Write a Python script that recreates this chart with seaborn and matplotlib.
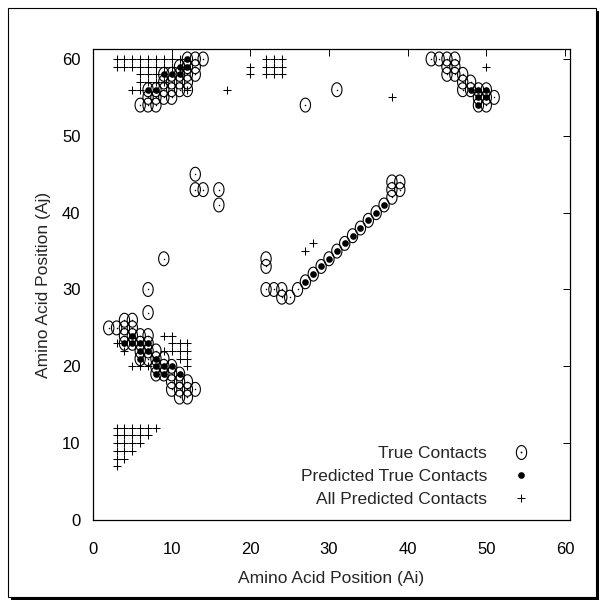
import numpy as np
import pandas as pd
import matplotlib
matplotlib.use("Agg")
import matplotlib.pyplot as plt
from matplotlib.path import Path
from matplotlib.markers import MarkerStyle
from matplotlib.lines import Line2D
from matplotlib.patches import Rectangle
import seaborn as sns

# Residue pairs (Ai, Aj) for each contact set
true_ai = [
    # N-terminal block vs C-terminal strand
    12, 13, 14, 11, 12, 13, 9, 10, 11, 12, 13, 9, 10, 11, 12,
    7, 8, 9, 10, 11, 12, 7, 8, 9, 10, 6, 7, 8,
    # antiparallel hairpin
    2, 3, 4, 4, 4, 4, 5, 5, 5, 5, 6, 6, 6, 6, 7, 7, 7, 7,
    8, 8, 8, 8, 9, 9, 9, 10, 10, 10, 10, 11, 11, 11, 11, 12, 12, 12, 13,
    # scattered contacts
    7, 7, 9, 13, 13, 14, 16, 16, 27, 31,
    # middle helix
    22, 22, 22, 23, 24, 24, 25, 26, 27, 28, 29, 30, 31, 32, 33, 34, 35, 36, 37,
    38, 38, 38, 39, 39,
    # C-terminal block
    43, 44, 45, 46, 45, 46, 45, 46, 47, 47, 48, 47, 48, 49, 50, 49, 50, 51, 49, 50,
]
true_aj = [
    60, 60, 60, 59, 59, 59, 58, 58, 58, 58, 58, 57, 57, 57, 57,
    56, 56, 56, 56, 56, 56, 55, 55, 55, 55, 54, 54, 54,
    25, 25, 26, 25, 24, 23, 26, 25, 24, 23, 24, 23, 22, 21, 24, 23, 22, 21,
    22, 21, 20, 19, 21, 20, 19, 20, 19, 18, 17, 19, 18, 17, 16, 18, 17, 16, 17,
    27, 30, 34, 45, 43, 43, 43, 41, 54, 56,
    34, 33, 30, 30, 30, 29, 29, 30, 31, 32, 33, 34, 35, 36, 37, 38, 39, 40, 41,
    42, 43, 44, 43, 44,
    60, 60, 60, 60, 59, 59, 58, 58, 58, 57, 57, 56, 56, 56, 56, 55, 55, 55, 54, 54,
]

pred_true_ai = [7, 8, 9, 10, 11, 11, 12, 12,
                5, 4, 5, 6, 7, 6, 7, 6, 8, 8, 9, 10, 8, 9, 11,
                27, 28, 29, 30, 31, 32, 33, 34, 35, 36, 37,
                48, 49, 50, 49, 50, 49]
pred_true_aj = [56, 56, 58, 58, 58, 59, 59, 60,
                24, 23, 23, 23, 23, 22, 22, 21, 21, 20, 20, 20, 19, 19, 19,
                31, 32, 33, 34, 35, 36, 37, 38, 39, 40, 41,
                56, 56, 56, 55, 55, 54]

pred_all_ai = [
    3, 4, 5, 6, 7, 8, 9, 10, 11,
    3, 4, 5, 6, 7, 8, 9, 10, 11,
    6, 7, 8, 9, 6, 7, 8, 9, 5, 6, 12,
    17, 20, 20, 22, 23, 24, 22, 23, 24, 22, 23, 24,
    38, 50, 27, 28,
    3, 4, 5, 6, 7, 9, 10, 10, 11, 12, 9, 10, 11, 12, 11, 12, 12,
    3, 4, 5, 6, 7, 8, 3, 4, 5, 6, 7, 3, 4, 5, 6, 3, 4, 5, 3, 4, 3,
]
pred_all_aj = [
    60, 60, 60, 60, 60, 60, 60, 60, 60,
    59, 59, 59, 59, 59, 59, 59, 59, 59,
    58, 58, 58, 58, 57, 57, 57, 57, 56, 56, 56,
    56, 59, 58, 60, 60, 60, 59, 59, 59, 58, 58, 58,
    55, 59, 35, 36,
    23, 22, 20, 20, 20, 24, 24, 23, 23, 23, 22, 22, 22, 22, 21, 21, 20,
    12, 12, 12, 12, 12, 12, 11, 11, 11, 11, 11, 10, 10, 10, 10, 9, 9, 9, 8, 8, 7,
]

x_ticks = [0, 10, 20, 30, 40, 50, 60]
y_ticks = [0, 10, 20, 30, 40, 50, 60]
x_label = "Amino Acid Position (Ai)"
y_label = "Amino Acid Position (Aj)"
series_names = ["True Contacts", "Predicted True Contacts", "All Predicted Contacts"]

true_df = pd.DataFrame({"Ai": true_ai, "Aj": true_aj})
pred_true_df = pd.DataFrame({"Ai": pred_true_ai, "Aj": pred_true_aj})
pred_all_df = pd.DataFrame({"Ai": pred_all_ai, "Aj": pred_all_aj})

sns.set_style("white")
plt.rcParams["font.family"] = ["Liberation Sans", "DejaVu Sans"]

fig = plt.figure(figsize=(6.11, 6.10), dpi=100)

# Page frame with a drop shadow, kept behind the axes
px_w, px_h = 611.0, 610.0
shadow = Rectangle(((8 + 3) / px_w, (610 - 597 - 3) / px_h), 588 / px_w, 589 / px_h,
                   transform=fig.transFigure, facecolor="black", edgecolor="none", zorder=-2)
page = Rectangle((8 / px_w, (610 - 597) / px_h), 588 / px_w, 589 / px_h,
                 transform=fig.transFigure, facecolor="white", edgecolor="black",
                 linewidth=0.8, zorder=-1)
fig.patches.extend([shadow, page])

ax = fig.add_axes([93 / px_w, (610 - 520) / px_h, 477 / px_w, 471 / px_h])
ax.set_facecolor("none")

# Slightly tall open ellipse for true contacts
theta = np.linspace(0, 2 * np.pi, 80)
ellipse = MarkerStyle(Path(np.column_stack([0.74 * np.cos(theta), np.sin(theta)]), closed=True))

sns.scatterplot(data=pred_all_df, x="Ai", y="Aj", ax=ax, marker="+", s=36,
                color="black", linewidth=0.75, zorder=2, legend=False)
sns.scatterplot(data=true_df, x="Ai", y="Aj", ax=ax, marker=ellipse, s=100,
                color="black", facecolor="none", edgecolor="black", linewidth=0.8,
                zorder=3, legend=False)
sns.scatterplot(data=true_df, x="Ai", y="Aj", ax=ax, marker="o", s=1.2,
                color="black", linewidth=0, zorder=3, legend=False)
sns.scatterplot(data=pred_true_df, x="Ai", y="Aj", ax=ax, marker="o", s=23,
                color="black", linewidth=0, zorder=4, legend=False)

ax.set_xlim(0, 60.64)
ax.set_ylim(0, 61.3)
ax.set_xticks(x_ticks)
ax.set_yticks(y_ticks)
ax.set_xlabel(x_label, fontsize=12.5, labelpad=10)
ax.set_ylabel(y_label, fontsize=12.5, labelpad=8)
ax.tick_params(direction="in", length=5, width=0.7, top=True, right=True,
               labelsize=12, colors="black")
ax.tick_params(axis="x", pad=16)
ax.tick_params(axis="y", pad=9)
for sp in ax.spines.values():
    sp.set_visible(True)
    sp.set_color("black")
    sp.set_linewidth(0.9)

h_true = (Line2D([], [], linestyle="none", marker=ellipse, markersize=10,
                 markerfacecolor="none", markeredgecolor="black", markeredgewidth=0.8),
          Line2D([], [], linestyle="none", marker="o", markersize=1.3,
                 markerfacecolor="black", markeredgewidth=0))
h_pred_true = Line2D([], [], linestyle="none", marker="o", markersize=4.8,
                     markerfacecolor="black", markeredgewidth=0)
h_pred_all = Line2D([], [], linestyle="none", marker="+", markersize=6,
                    markeredgecolor="black", markeredgewidth=0.75)
ax.legend([h_true, h_pred_true, h_pred_all], series_names, loc="lower right",
          bbox_to_anchor=(0.93, 0.012), frameon=False, markerfirst=False,
          fontsize=12.5, handlelength=1.0, handletextpad=1.45, labelspacing=0.45,
          borderaxespad=0)

fig.savefig("out.png", dpi=100, facecolor="white")
